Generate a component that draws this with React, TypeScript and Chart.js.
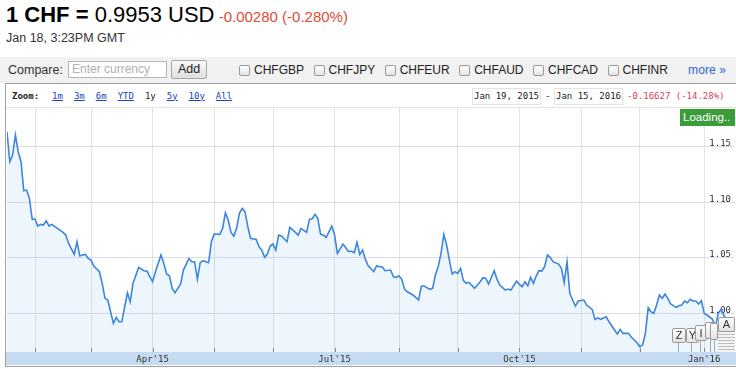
import React, { useEffect, useRef } from "react";
import { Chart, registerables } from "chart.js";

Chart.register(...registerables);

// Trading-day index (weekdays since Mon Jan 19, 2015) and CHF→USD rate
const tradingDay = [
  0, 1, 2, 3, 4, 5, 6, 7, 8, 9, 10, 11, 12, 13, 14, 15, 16, 18, 20, 21, 22, 24, 25, 26, 27, 28, 29, 30, 31, 33,
  34, 35, 36, 37, 38, 39, 40, 41, 43, 44, 45, 47, 48, 49, 50, 51, 52, 53, 55, 56, 57, 58, 59, 60, 62, 63, 65, 66, 67, 68,
  69, 70, 72, 73, 74, 76, 77, 78, 79, 80, 81, 82, 83, 84, 85, 86, 87, 89, 90, 91, 92, 93, 94, 95, 96, 97, 98, 100, 101, 103,
  104, 105, 107, 108, 109, 110, 111, 112, 113, 114, 116, 117, 118, 120, 121, 122, 123, 124, 125, 126, 127, 128, 129, 131, 132, 133, 134, 135, 137, 138,
  139, 140, 141, 142, 143, 145, 146, 147, 148, 149, 151, 152, 153, 154, 155, 156, 157, 158, 159, 160, 161, 162, 163, 164, 165, 167, 168, 169, 170, 171,
  172, 174, 175, 176, 178, 179, 180, 182, 183, 184, 185, 186, 187, 188, 189, 190, 191, 192, 193, 194, 195, 197, 198, 199, 200, 201, 202, 203, 204, 206,
  207, 209, 210, 211, 212, 214, 215, 217, 218, 219, 220, 222, 223, 225, 226, 227, 228, 229, 230, 231, 232, 233, 234, 235, 236, 237, 239, 240, 241, 242,
  243, 244, 245, 246, 247, 248, 249, 250, 252, 253, 254, 255, 256, 257, 258, 259,
];
const rateUSD = [
  1.1635, 1.1365, 1.1425, 1.1605, 1.1455, 1.1365, 1.1104, 1.111, 1.1035, 1.0846, 1.0849, 1.0786, 1.0801, 1.0795, 1.0834, 1.0786, 1.0801, 1.0765, 1.0729, 1.0705, 1.063, 1.0531, 1.0645, 1.0516, 1.0525, 1.0531, 1.0495, 1.048, 1.0426, 1.0375,
  1.027, 1.0135, 1.012, 1.0014, 0.991, 0.9964, 0.9924, 0.9925, 1.0185, 1.0104, 1.027, 1.0414, 1.0399, 1.0381, 1.0381, 1.033, 1.0285, 1.0375, 1.0525, 1.045, 1.0354, 1.0339, 1.0225, 1.0185, 1.0264, 1.039, 1.0495, 1.0465, 1.0465, 1.0309,
  1.0456, 1.0474, 1.0456, 1.0645, 1.0714, 1.0711, 1.0765, 1.0906, 1.084, 1.0729, 1.0696, 1.0765, 1.09, 1.0945, 1.0915, 1.078, 1.0675, 1.0666, 1.06, 1.057, 1.0504, 1.0534, 1.0606, 1.0624, 1.057, 1.0705, 1.0696, 1.0645, 1.0774, 1.0729,
  1.0705, 1.0765, 1.0729, 1.0846, 1.0852, 1.0891, 1.0855, 1.0711, 1.0705, 1.0684, 1.0786, 1.0705, 1.054, 1.0624, 1.0591, 1.0555, 1.0561, 1.0546, 1.0639, 1.0531, 1.057, 1.0486, 1.0429, 1.0375, 1.0429, 1.042, 1.042, 1.0384, 1.039, 1.033,
  1.0324, 1.0339, 1.0306, 1.0216, 1.0194, 1.0165, 1.0144, 1.012, 1.0246, 1.0246, 1.0216, 1.0225, 1.0345, 1.042, 1.054, 1.0711, 1.0615, 1.048, 1.0354, 1.0375, 1.036, 1.0405, 1.0294, 1.027, 1.0279, 1.0225, 1.0255, 1.0285, 1.0321, 1.0315,
  1.0264, 1.0384, 1.0306, 1.0255, 1.021, 1.0219, 1.021, 1.0291, 1.0261, 1.024, 1.0285, 1.0249, 1.0324, 1.027, 1.0336, 1.0384, 1.0381, 1.042, 1.0525, 1.0504, 1.0465, 1.0444, 1.0405, 1.0276, 1.0465, 1.018, 1.012, 1.0066, 1.0111, 1.012,
  1.0075, 1.0036, 0.9946, 0.996, 0.9946, 0.9969, 0.9924, 0.985, 0.9814, 0.9856, 0.982, 0.982, 0.9784, 0.9735, 0.9699, 0.9715, 0.982, 1.005, 1.0014, 1.0, 1.0075, 1.0165, 1.0135, 1.0174, 1.0135, 1.0084, 1.0054, 1.0068, 1.0075, 1.0111,
  1.0095, 1.0126, 1.0111, 1.0111, 1.0084, 1.0113, 1.0, 0.9985, 0.9946, 0.9879, 1.0, 1.0036, 0.9985, 0.994, 0.996, 0.9953,
];

// Month starts (trading-day index) and their axis labels
const monthStartDay = [10, 30, 52, 74, 95, 117, 140, 161, 183, 205, 226, 249];
const monthLabel = ["", "", "Apr'15", "", "", "Jul'15", "", "", "Oct'15", "", "", "Jan'16"];
const rateTicks = [1.0, 1.05, 1.1, 1.15];
const rateMin = 0.9652;
const rateMax = 1.1858;
const dayMin = 0;
const dayMax = 260;

const compareSymbols = ["CHFGBP", "CHFJPY", "CHFEUR", "CHFAUD", "CHFCAD", "CHFINR"];
const zoomLinks = ["1m", "3m", "6m", "YTD", "1y", "5y", "10y", "All"];

const SANS = '"Liberation Sans", Arial, sans-serif';
const MONO = '"DejaVu Sans Mono", monospace';

export default function App() {
  const ref = useRef<HTMLCanvasElement>(null);

  useEffect(() => {
    const canvas = ref.current;
    if (!canvas) return;
    const bandPlugin = {
      id: "axisBand",
      beforeDraw(chart: any) {
        const { ctx, chartArea } = chart;
        ctx.save();
        ctx.fillStyle = "#c6dbf2";
        ctx.fillRect(6, chartArea.bottom, 730, 13);
        ctx.restore();
      },
      beforeDatasetsDraw(chart: any) {
        const { ctx, chartArea, scales } = chart;
        ctx.save();
        ctx.strokeStyle = "#8a8a8a";
        ctx.lineWidth = 1;
        monthStartDay.forEach((d) => {
          const px = Math.round(scales.x.getPixelForValue(d)) + 0.5;
          ctx.beginPath();
          ctx.moveTo(px, chartArea.bottom - 4);
          ctx.lineTo(px, chartArea.bottom);
          ctx.stroke();
        });
        ctx.restore();
      },
    };

    const chart = new Chart(canvas, {
      type: "line",
      data: {
        datasets: [
          {
            data: tradingDay.map((d, i) => ({ x: d, y: rateUSD[i] })),
            borderColor: "#3d86dc",
            borderWidth: 1.6,
            backgroundColor: "rgba(70,150,235,0.09)",
            fill: "start",
            pointRadius: 0,
            tension: 0,
          },
        ],
      },
      options: {
        responsive: false,
        animation: false,
        events: [],
        layout: { padding: { left: 7, top: 107, right: 0, bottom: 0 } },
        plugins: { legend: { display: false }, tooltip: { enabled: false } },
        scales: {
          x: {
            type: "linear",
            min: dayMin,
            max: dayMax,
            afterBuildTicks: (s: any) => {
              s.ticks = monthStartDay.map((v) => ({ value: v }));
            },
            afterFit: (s: any) => {
              s.height = 17;
            },
            grid: { color: "#e1e5e1", drawTicks: false, lineWidth: 1 },
            border: { display: false },
            ticks: {
              autoSkip: false,
              maxRotation: 0,
              padding: 2,
              color: "#333",
              font: { family: MONO, size: 9 },
              callback: (_v: any, i: number) => monthLabel[i] ?? "",
            },
          },
          y: {
            type: "linear",
            position: "right",
            min: rateMin,
            max: rateMax,
            afterBuildTicks: (s: any) => {
              s.ticks = rateTicks.map((v) => ({ value: v }));
            },
            afterFit: (s: any) => {
              s.width = 1;
            },
            grid: { color: "#dcdcef", drawTicks: false },
            border: { display: false },
            ticks: {
              mirror: true,
              padding: -4,
              labelOffset: -3,
              color: "#333",
              font: { family: MONO, size: 9 },
              callback: (v: any) => Number(v).toFixed(2),
            },
          },
        },
      },
      plugins: [bandPlugin],
    } as any);
    return () => chart.destroy();
  }, []);

  const checkbox: React.CSSProperties = {
    display: "inline-block",
    width: 11,
    height: 11,
    boxSizing: "border-box",
    border: "1px solid #9a9a9a",
    borderRadius: 2,
    background: "linear-gradient(#ffffff,#e4e4e4)",
    marginRight: 4,
  };

  const flag = (l: number, t: number, w: number, h: number): React.CSSProperties => ({
    position: "absolute",
    left: l,
    top: t,
    width: w,
    height: h,
    boxSizing: "border-box",
    border: "1px solid #9a9a9a",
    borderRadius: 2,
    background: "linear-gradient(#ffffff,#e2e2e2)",
    fontSize: 11,
    lineHeight: `${h - 2}px`,
    textAlign: "center",
    color: "#333",
    fontFamily: SANS,
  });

  return (
    <div
      style={{
        position: "absolute",
        left: 0,
        top: 0,
        width: 736,
        height: 369,
        overflow: "hidden",
        background: "#fff",
        fontFamily: SANS,
        color: "#222",
      }}
    >
      {/* Title */}
      <div style={{ position: "absolute", left: 6, top: 2, fontSize: 22, lineHeight: "26px", whiteSpace: "nowrap", color: "#000" }}>
        <b>1 CHF =</b> 0.9953 USD
        <span style={{ fontSize: 15, color: "#dd4b39" }}> -0.00280 (-0.280%)</span>
      </div>
      <div style={{ position: "absolute", left: 6, top: 31, fontSize: 12.5, lineHeight: "15px", whiteSpace: "nowrap", color: "#333" }}>
        Jan 18, 3:23PM GMT
      </div>

      {/* Compare toolbar */}
      <div style={{ position: "absolute", left: 0, top: 57, width: 736, height: 26, background: "#f1f1f1" }} />
      <div style={{ position: "absolute", left: 8, top: 57, height: 26, lineHeight: "26px", fontSize: 12.5, color: "#333" }}>Compare:</div>
      <div
        style={{
          position: "absolute",
          left: 68,
          top: 61,
          width: 99,
          height: 17,
          boxSizing: "border-box",
          border: "1px solid #b5b5b5",
          background: "#fff",
          fontSize: 12,
          lineHeight: "15px",
          color: "#b0b0b0",
          paddingLeft: 3,
          whiteSpace: "nowrap",
        }}
      >
        Enter currency
      </div>
      <div
        style={{
          position: "absolute",
          left: 171,
          top: 60,
          width: 36,
          height: 19,
          boxSizing: "border-box",
          border: "1px solid #a8a8a8",
          borderRadius: 2,
          background: "linear-gradient(#f9f9f9,#dedede)",
          fontSize: 12.5,
          lineHeight: "17px",
          textAlign: "center",
          color: "#222",
        }}
      >
        Add
      </div>
      <div
        style={{
          position: "absolute",
          left: 239,
          top: 57,
          height: 26,
          display: "flex",
          alignItems: "center",
          fontSize: 12,
          color: "#222",
          whiteSpace: "nowrap",
        }}
      >
        {compareSymbols.map((s) => (
          <span key={s} style={{ display: "inline-flex", alignItems: "center", marginRight: 9.5 }}>
            <span style={checkbox} />
            {s}
          </span>
        ))}
      </div>
      <div style={{ position: "absolute", left: 688, top: 57, height: 26, lineHeight: "26px", fontSize: 12.2, color: "#3366cc", whiteSpace: "nowrap" }}>
        more »
      </div>

      {/* Chart box */}
      <div
        style={{
          position: "absolute",
          left: 5,
          top: 83,
          width: 735,
          height: 284,
          boxSizing: "border-box",
          border: "1px solid #a0a0a0",
          background: "#fff",
        }}
      />
      {/* Zoom row */}
      <div style={{ position: "absolute", left: 6, top: 107, width: 730, height: 1, background: "#e2e2e2" }} />
      <div
        style={{
          position: "absolute",
          left: 12,
          top: 84,
          height: 23,
          display: "flex",
          alignItems: "center",
          fontFamily: MONO,
          fontSize: 9,
          whiteSpace: "nowrap",
        }}
      >
        <b style={{ marginRight: 13, color: "#222" }}>Zoom:</b>
        {zoomLinks.map((z) => (
          <span
            key={z}
            style={{
              marginRight: 11,
              color: z === "1y" ? "#222" : "#2040c8",
              textDecoration: z === "1y" ? "none" : "underline",
            }}
          >
            {z}
          </span>
        ))}
      </div>
      <div
        style={{
          position: "absolute",
          left: 472,
          top: 88,
          width: 69,
          height: 17,
          boxSizing: "border-box",
          border: "1px solid #e4e4e4",
          fontFamily: MONO,
          fontSize: 9,
          lineHeight: "15px",
          textAlign: "center",
          color: "#222",
        }}
      >
        Jan 19, 2015
      </div>
      <div style={{ position: "absolute", left: 545, top: 88, lineHeight: "17px", fontFamily: MONO, fontSize: 9, color: "#222" }}>-</div>
      <div
        style={{
          position: "absolute",
          left: 554,
          top: 88,
          width: 69,
          height: 17,
          boxSizing: "border-box",
          border: "1px solid #e4e4e4",
          fontFamily: MONO,
          fontSize: 9,
          lineHeight: "15px",
          textAlign: "center",
          color: "#222",
        }}
      >
        Jan 15, 2016
      </div>
      <div style={{ position: "absolute", left: 627, top: 88, lineHeight: "17px", fontFamily: MONO, fontSize: 9, color: "#d63e5c", whiteSpace: "nowrap" }}>
        -0.16627 (-14.28%)
      </div>

      <canvas ref={ref} width={736} height={369} style={{ position: "absolute", left: 0, top: 0, width: 736, height: 369 }} />

      {/* Overlays */}
      <div
        style={{
          position: "absolute",
          left: 680,
          top: 109,
          width: 55,
          height: 17,
          background: "#3a9d3a",
          color: "#fff",
          fontSize: 11.5,
          lineHeight: "17px",
          paddingLeft: 3,
          boxSizing: "border-box",
          whiteSpace: "nowrap",
        }}
      >
        Loading..
      </div>
      <div
        style={{
          position: "absolute",
          left: 718,
          top: 331,
          width: 17,
          height: 21,
          background: "repeating-linear-gradient(#bdbdbd 0 1px, #f4f4f4 1px 3px)",
        }}
      />
      {[678, 691, 700, 710, 714].map((x) => (
        <div key={x} style={{ position: "absolute", left: x, top: 338, width: 1, height: 14, background: "#a8a8a8" }} />
      ))}
      <div style={flag(672, 328, 14, 15)}>Z</div>
      <div style={flag(686, 328, 13, 15)}>Y</div>
      <div style={flag(695, 325, 12, 16)}>I</div>
      <div style={flag(705, 322, 10, 17)}></div>
      <div style={flag(710, 323, 8, 17)}></div>
      <div style={flag(718, 317, 17, 15)}>A</div>
    </div>
  );
}
